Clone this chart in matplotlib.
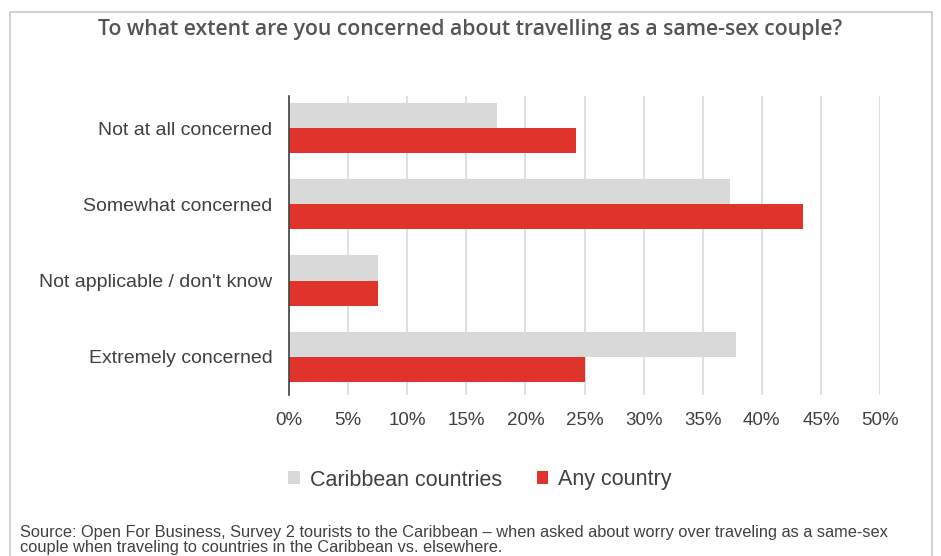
import matplotlib.pyplot as plt
from matplotlib.patches import Rectangle

categories = ["Not at all concerned", "Somewhat concerned",
              "Not applicable / don't know", "Extremely concerned"]
caribbean = [17.6, 37.3, 7.5, 37.8]
any_country = [24.3, 43.5, 7.5, 25.0]
xticks = [0, 5, 10, 15, 20, 25, 30, 35, 40, 45, 50]

plt.rcParams["font.family"] = ["Liberation Sans", "DejaVu Sans"]

fig = plt.figure(figsize=(9.41, 5.56), dpi=100)
ax = fig.add_axes([289 / 941, 1 - 395 / 556, 591 / 941, 299 / 556])

# outer frame
fig.patches.append(Rectangle((10 / 941, -0.05), 922 / 941, 1 - 12 / 556 + 0.05,
                             transform=fig.transFigure, fill=False,
                             edgecolor="#C8C8C8", linewidth=1.2))

y = list(range(len(categories)))
h = 0.33
ax.barh([v - h / 2 for v in y], caribbean, height=h, color="#D9D9D9",
        label="Caribbean countries", zorder=2)
ax.barh([v + h / 2 for v in y], any_country, height=h, color="#E0332C",
        label="Any country", zorder=2)

ax.set_xlim(0, 50)
ax.set_ylim(3.5, -0.42)
ax.set_xticks(xticks)
ax.set_xticklabels([f"{t}%" for t in xticks], fontsize=13.5, color="#404040")
ax.set_yticks(y)
ax.set_yticklabels(categories, fontsize=14, color="#404040")
ax.tick_params(axis="x", length=0, pad=12)
ax.tick_params(axis="y", length=0, pad=12)
ax.grid(axis="x", color="#D9D9D9", linewidth=1.2, zorder=0)
for s in ["top", "right", "bottom"]:
    ax.spines[s].set_visible(False)
ax.spines["left"].set_color("#404040")
ax.spines["left"].set_linewidth(1.2)
ax.spines["left"].set_zorder(3)

fig.text(0.5, 1 - 29 / 556, "To what extent are you concerned about travelling as a same-sex couple?",
         ha="center", va="center", fontsize=15.3, fontweight="semibold", color="#555555",
         family=["Open Sans", "DejaVu Sans"])

leg = ax.legend(loc="center", bbox_to_anchor=((480 - 289) / 591, (395 - 480) / 299),
                ncol=2, frameon=False, fontsize=15.5, handlelength=0.55, handleheight=0.55,
                handletextpad=0.45, columnspacing=1.6, labelcolor="#404040")

fig.text(20 / 941, 1 - 540 / 556,
         "Source: Open For Business, Survey 2 tourists to the Caribbean \u2013 when asked about worry over traveling as a same-sex\n"
         "couple when traveling to countries in the Caribbean vs. elsewhere.",
         ha="left", va="center", fontsize=11.8, color="#404040", linespacing=1.05)

fig.savefig("out.png", dpi=100)
